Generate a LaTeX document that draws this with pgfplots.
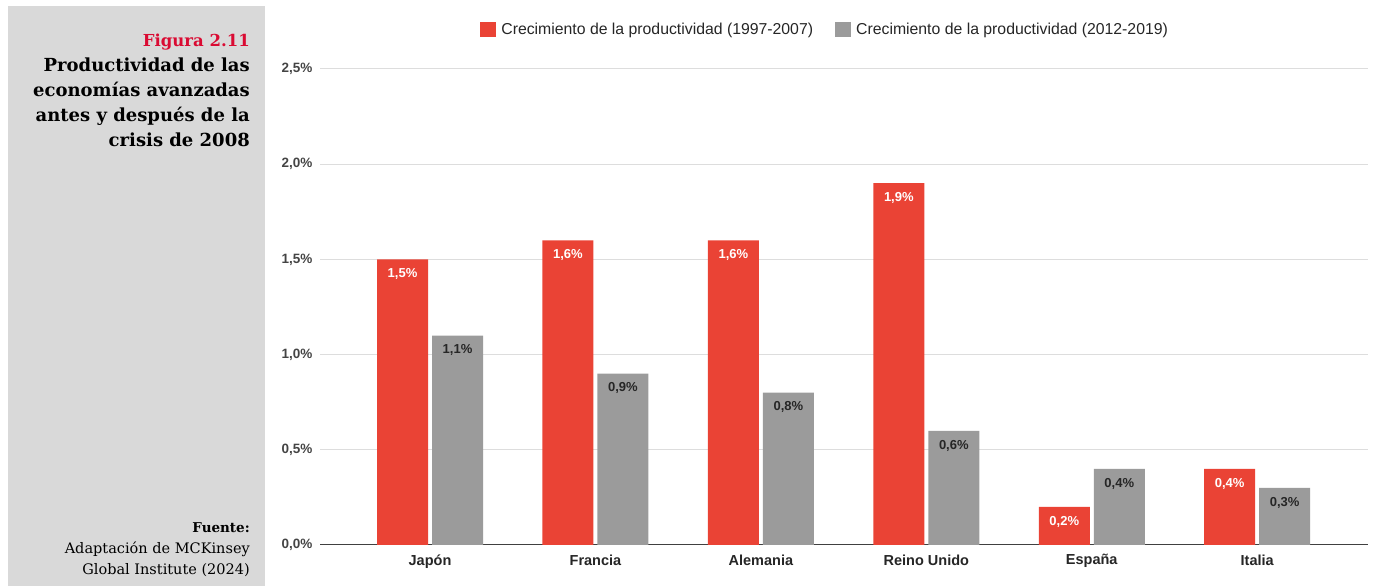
\documentclass[border=0pt]{standalone}
\usepackage{fontspec}
\setmainfont{DejaVu Serif}
\newfontfamily\arial{Liberation Sans}
\usepackage{pgfplots}
\pgfplotsset{compat=1.18}
\definecolor{barred}{HTML}{EA4335}
\definecolor{bargray}{HTML}{9B9B9B}
\definecolor{panel}{HTML}{D9D9D9}
\definecolor{figred}{HTML}{DA0B33}
\definecolor{gridgray}{HTML}{DDDDDD}
\definecolor{ticktext}{HTML}{444444}
\begin{document}
\begin{tikzpicture}
\useasboundingbox (0,0) rectangle (1377pt,586pt);
% left caption panel
\fill[panel] (8pt,0) rectangle (265pt,580pt);
\node[anchor=base east, inner sep=0pt, text=figred, font=\fontsize{16.5pt}{16.5pt}\selectfont\bfseries] at (250pt,539pt) {Figura 2.11};
\foreach \txt/\yy in {Productividad de las/514, economías avanzadas/489, antes y después de la/464, crisis de 2008/439}
  \node[anchor=base east, inner sep=0pt, font=\fontsize{18pt}{18pt}\selectfont\bfseries] at (250pt,\yy pt) {\txt};
\node[anchor=base east, inner sep=0pt, font=\fontsize{13.5pt}{13.5pt}\selectfont\bfseries] at (250pt,53pt) {Fuente:};
\node[anchor=base east, inner sep=0pt, font=\fontsize{14.5pt}{14.5pt}\selectfont] at (250pt,32pt) {Adaptación de MCKinsey};
\node[anchor=base east, inner sep=0pt, font=\fontsize{14.5pt}{14.5pt}\selectfont] at (250pt,11pt) {Global Institute (2024)};

\begin{axis}[
    at={(320pt,41pt)}, anchor=south west,
    scale only axis, width=1048pt, height=476pt,
    xmin=-0.665, xmax=5.67, ymin=0, ymax=2.5,
    ybar=4pt, bar width=51pt,
    axis line style={draw=none},
    major tick length=0pt,
    /pgf/number format/assume math mode=true,
    xtick=data,
    xticklabels={Japón, Francia, Alemania, Reino Unido, España, Italia},
    xticklabel style={font=\arial\fontsize{14.5pt}{14.5pt}\selectfont\bfseries, text=black!85, yshift=-6pt},
    ytick={0,0.5,1,1.5,2,2.5},
    yticklabel={\pgfmathprintnumber[fixed,fixed zerofill,precision=1,use comma]{\tick}\%},
    yticklabel style={font=\arial\fontsize{13.5pt}{13.5pt}\selectfont\bfseries, text=ticktext, xshift=-4pt},
    ymajorgrids, grid style={gridgray, line width=1pt},
    extra y ticks={0}, extra y tick labels={},
    extra y tick style={grid style={black!75, line width=1pt}},
    nodes near coords={\pgfmathprintnumber[fixed,fixed zerofill,precision=1,use comma]{\pgfplotspointmeta}\%},
    every node near coord/.append style={anchor=north, yshift=-9pt, inner sep=0pt, font=\arial\fontsize{13pt}{13pt}\selectfont\bfseries},
    legend columns=2,
    legend style={at={(0.482,1.082)}, anchor=center, draw=none, fill=none,
        font=\arial\fontsize{15.8pt}{15.8pt}\selectfont, text=black!85,
        /tikz/every odd column/.append style={column sep=3pt},
        /tikz/every even column/.append style={column sep=20pt}},
    legend image code/.code={\fill[#1] (0pt,-7.5pt) rectangle (16pt,7.5pt);},
]
\addplot[fill=barred, draw=none, every node near coord/.append style={text=white}] coordinates {
    (0,1.5) (1,1.6) (2,1.6) (3,1.9) (4,0.2) (5,0.4)
};
\addlegendentry{Crecimiento de la productividad (1997-2007)}
\addplot[fill=bargray, draw=none, every node near coord/.append style={text=black!85}] coordinates {
    (0,1.1) (1,0.9) (2,0.8) (3,0.6) (4,0.4) (5,0.3)
};
\addlegendentry{Crecimiento de la productividad (2012-2019)}
\end{axis}
\end{tikzpicture}
\end{document}
